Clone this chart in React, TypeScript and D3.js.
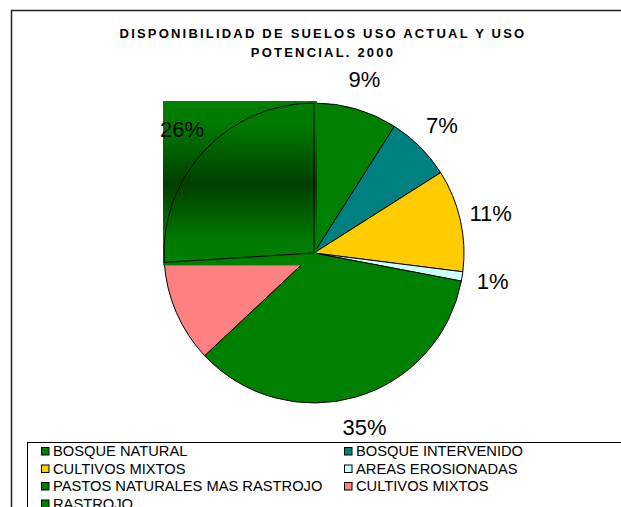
import React from "react";
import * as d3 from "d3";

const categories = [
  "BOSQUE NATURAL",
  "BOSQUE INTERVENIDO",
  "CULTIVOS MIXTOS",
  "AREAS EROSIONADAS",
  "PASTOS NATURALES MAS RASTROJO",
  "CULTIVOS MIXTOS",
  "RASTROJO",
];
const values = [9, 7, 11, 1, 35, 11, 26];
const colors = ["#008000", "#008080", "#FFCC00", "#CCFFFF", "#008000", "#FF8080", "#008000"];
const labelShown = [true, true, true, true, true, false, true];
const gradientSlice = 6;
const titleLines = ["DISPONIBILIDAD DE SUELOS USO ACTUAL Y USO", "POTENCIAL. 2000"];

const W = 621;
const H = 507;
const cx = 314;
const cy = 253;
const R = 150;
const labelR = 181;
const font = "Liberation Sans, Arial, sans-serif";

export default function App() {
  const total = d3.sum(values);
  const pie = d3.pie<number>().sort(null).value((d) => d).startAngle(0).endAngle(2 * Math.PI);
  const arcs = pie(values);
  const arc = d3.arc<d3.PieArcDatum<number>>().innerRadius(0).outerRadius(R);

  const g = arcs[gradientSlice];
  const pts: [number, number][] = [[0, 0]];
  const steps = 60;
  for (let i = 0; i <= steps; i++) {
    const a = g.startAngle + ((g.endAngle - g.startAngle) * i) / steps;
    pts.push([R * Math.sin(a), -R * Math.cos(a)]);
  }
  const x0 = d3.min(pts, (p) => p[0])! - 1;
  const x1 = d3.max(pts, (p) => p[0])! + 3;
  const y0 = d3.min(pts, (p) => p[1])! - 2;
  const y1 = d3.max(pts, (p) => p[1])! + 3;

  const legendCols = [41, 344];
  const legendRows = [451, 468.5, 486, 503.5];

  return (
    <svg width={W} height={H} style={{ position: "absolute", left: 0, top: 0 }}>
      <defs>
        <linearGradient id="rastGrad" x1="0" y1="0" x2="0" y2="1">
          <stop offset="0" stopColor="#008000" />
          <stop offset="0.15" stopColor="#007a00" />
          <stop offset="0.5" stopColor="#003f00" />
          <stop offset="0.85" stopColor="#007a00" />
          <stop offset="1" stopColor="#008000" />
        </linearGradient>
      </defs>
      <rect x={0} y={0} width={W} height={H} fill="#fff" />
      <rect x={11.5} y={10.5} width={W + 20} height={H + 20} fill="none" stroke="#222" strokeWidth={1.5} />
      <g fontFamily={font} fontWeight="bold" fontSize={13} letterSpacing={2.2} textAnchor="middle" fill="#000">
        {titleLines.map((t, i) => (
          <text key={i} x={323} y={38 + i * 19}>
            {t}
          </text>
        ))}
      </g>
      <g transform={`translate(${cx},${cy})`}>
        {arcs.map((a, i) =>
          i === gradientSlice ? null : (
            <path key={i} d={arc(a)!} fill={colors[i]} stroke="#000" strokeWidth={1} />
          )
        )}
        <rect x={x0} y={y0} width={x1 - x0} height={y1 - y0} fill="url(#rastGrad)" />
        <path d={arc(g)!} fill="none" stroke="#000" strokeWidth={1} />
        {arcs.map((a, i) => {
          if (!labelShown[i]) return null;
          const m = (a.startAngle + a.endAngle) / 2;
          const x = labelR * Math.sin(m);
          const y = -labelR * Math.cos(m);
          return (
            <text
              key={i}
              x={x}
              y={y}
              dy="0.36em"
              textAnchor="middle"
              fontFamily={font}
              fontSize={22}
              fill="#000"
            >
              {Math.round((a.value / total) * 100) + "%"}
            </text>
          );
        })}
      </g>
      <rect x={27.5} y={442.5} width={W} height={100} fill="#fff" stroke="#000" strokeWidth={1} />
      {categories.map((c, i) => {
        const col = i % 2;
        const row = Math.floor(i / 2);
        const x = legendCols[col];
        const y = legendRows[row];
        return (
          <g key={i}>
            <rect x={x + 0.5} y={y - 3.5} width={7.5} height={7.5} fill={colors[i]} stroke="#000" strokeWidth={1} />
            <text x={x + 12} y={y} dy="0.36em" fontFamily={font} fontSize={14.7} fill="#000">
              {c}
            </text>
          </g>
        );
      })}
    </svg>
  );
}
